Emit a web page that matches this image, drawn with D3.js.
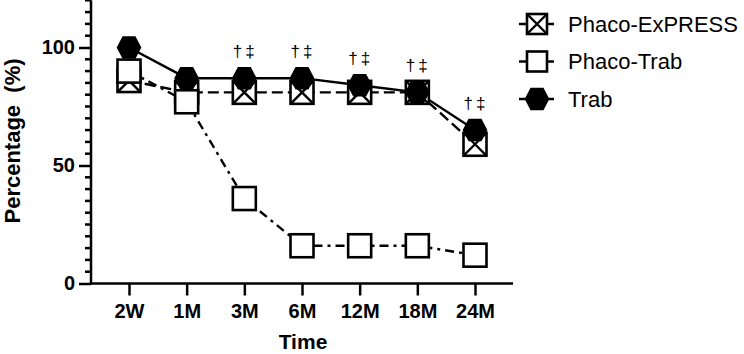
<!DOCTYPE html>
<html>
<head>
<meta charset="utf-8">
<script src="https://cdn.jsdelivr.net/npm/d3@7"></script>
<style>
html,body{margin:0;padding:0;background:#fff;}
svg{display:block;font-family:Arial,"Liberation Sans",Helvetica,sans-serif;}
</style>
</head>
<body>
<svg id="chart" width="744" height="354"></svg>
<script>
const categories = ["2W","1M","3M","6M","12M","18M","24M"];
const phacoExpress = [86, 81, 81, 81, 81, 81, 59];
const phacoTrab = [90, 77, 36, 16, 16, 16, 12];
const trab = [100, 87, 87, 87, 84, 81, 65];
const annotations = ["", "", "†‡", "†‡", "†‡", "†‡", "†‡"];
const yTicks = [0, 50, 100];
const seriesNames = ["Phaco-ExPRESS", "Phaco-Trab", "Trab"];

const svg = d3.select("#chart");
const x = d3.scalePoint().domain(categories).range([129, 475]);
const y = d3.scaleLinear().domain([0, 120]).range([283.5, 0.3]);
const xLeft = 91, xRight = 513;

const g = svg.append("g");

// Y axis
const yAxis = d3.axisLeft(y).tickValues(yTicks).tickSize(12).tickPadding(4).tickFormat(d3.format("d"));
const ya = g.append("g").attr("transform", `translate(${xLeft},0)`).call(yAxis);
ya.select(".domain").remove();
ya.selectAll(".tick line").attr("stroke", "#000").attr("stroke-width", 2.5);
ya.selectAll(".tick text").attr("font-size", 20).attr("font-weight", "bold").attr("fill", "#000");
const minor = d3.range(0, 121, 5).filter(v => v % 50 !== 0);
g.selectAll(".minor").data(minor).join("line")
  .attr("x1", xLeft - 6).attr("x2", xLeft).attr("y1", d => y(d)).attr("y2", d => y(d))
  .attr("stroke", "#000").attr("stroke-width", 2.5);
g.append("line").attr("x1", xLeft).attr("x2", xLeft).attr("y1", y(120)).attr("y2", y(0) + 1.25)
  .attr("stroke", "#000").attr("stroke-width", 2.5);

// X axis
const xAxis = d3.axisBottom(x).tickSize(12).tickPadding(8);
const xa = g.append("g").attr("transform", `translate(0,${y(0)})`).call(xAxis);
xa.select(".domain").remove();
xa.selectAll(".tick line").attr("stroke", "#000").attr("stroke-width", 2.5);
xa.selectAll(".tick text").attr("font-size", 20).attr("font-weight", "bold").attr("fill", "#000");
g.append("line").attr("x1", xLeft - 1.25).attr("x2", xRight).attr("y1", y(0)).attr("y2", y(0))
  .attr("stroke", "#000").attr("stroke-width", 2.5);

// Axis titles
g.append("text").attr("x", (xLeft + xRight) / 2 + 1).attr("y", 349).attr("text-anchor", "middle")
  .attr("font-size", 21).attr("font-weight", "bold").text("Time");
g.append("text").attr("transform", `translate(20,141) rotate(-90)`).attr("text-anchor", "middle")
  .attr("font-size", 22).attr("font-weight", "bold").attr("xml:space", "preserve").text("Percentage  (%)");

// symbols
const S = 23;
function drawSquare(sel, cx, cy, crossed) {
  const h = S / 2;
  sel.append("rect").attr("x", cx - h).attr("y", cy - h).attr("width", S).attr("height", S)
    .attr("fill", "#fff").attr("stroke", "#000").attr("stroke-width", 2.6);
  if (crossed) {
    sel.append("path").attr("d", `M${cx - h},${cy - h}L${cx + h},${cy + h}M${cx + h},${cy - h}L${cx - h},${cy + h}`)
      .attr("stroke", "#000").attr("stroke-width", 2.4).attr("fill", "none");
  }
}
function drawHex(sel, cx, cy) {
  const w = 11.5, hh = 10.5, q = 6;
  sel.append("path").attr("d",
    `M${cx - w},${cy}L${cx - q},${cy - hh}L${cx + q},${cy - hh}L${cx + w},${cy}L${cx + q},${cy + hh}L${cx - q},${cy + hh}Z`)
    .attr("fill", "#000").attr("stroke", "#000").attr("stroke-width", 1.5);
}

const line = d3.line().x((d, i) => x(categories[i])).y(d => y(d));
const series = [
  {name: seriesNames[0], values: phacoExpress, dash: "11,5", sym: "xsq"},
  {name: seriesNames[1], values: phacoTrab, dash: "9,5,3,5", sym: "sq"},
  {name: seriesNames[2], values: trab, dash: null, sym: "hex"}
];

series.forEach(s => {
  g.append("path").attr("d", line(s.values)).attr("fill", "none").attr("stroke", "#000")
    .attr("stroke-width", 2.4).attr("stroke-dasharray", s.dash);
});
series.forEach(s => {
  const sg = g.append("g");
  s.values.forEach((v, i) => {
    const cx = x(categories[i]), cy = y(v);
    if (s.sym === "hex") drawHex(sg, cx, cy);
    else drawSquare(sg, cx, cy, s.sym === "xsq");
  });
});

// annotations
g.selectAll(".ann").data(annotations).join("text")
  .attr("x", (d, i) => x(categories[i]) + 1)
  .attr("y", (d, i) => y(trab[i]) - 21)
  .attr("text-anchor", "middle").attr("font-size", 17).attr("letter-spacing", 3)
  .attr("font-family", "'Liberation Sans', Arial, sans-serif")
  .text(d => d);

// legend
const lg = svg.append("g");
series.forEach((s, i) => {
  const cy = 24 + i * 37.5, cx = 537;
  lg.append("line").attr("x1", 519).attr("x2", 554).attr("y1", cy).attr("y2", cy)
    .attr("stroke", "#000").attr("stroke-width", 2.4);
  if (s.sym === "hex") drawHex(lg, cx, cy);
  else {
    const h = 10;
    lg.append("rect").attr("x", cx - h).attr("y", cy - h).attr("width", 2 * h).attr("height", 2 * h)
      .attr("fill", "#fff").attr("stroke", "#000").attr("stroke-width", 2.6);
    if (s.sym === "xsq") lg.append("path").attr("d", `M${cx - h},${cy - h}L${cx + h},${cy + h}M${cx + h},${cy - h}L${cx - h},${cy + h}`)
      .attr("stroke", "#000").attr("stroke-width", 2.4);
  }
  lg.append("text").attr("x", 568).attr("y", cy).attr("dy", "0.36em").attr("font-size", 22).text(s.name);
});
</script>
</body>
</html>
